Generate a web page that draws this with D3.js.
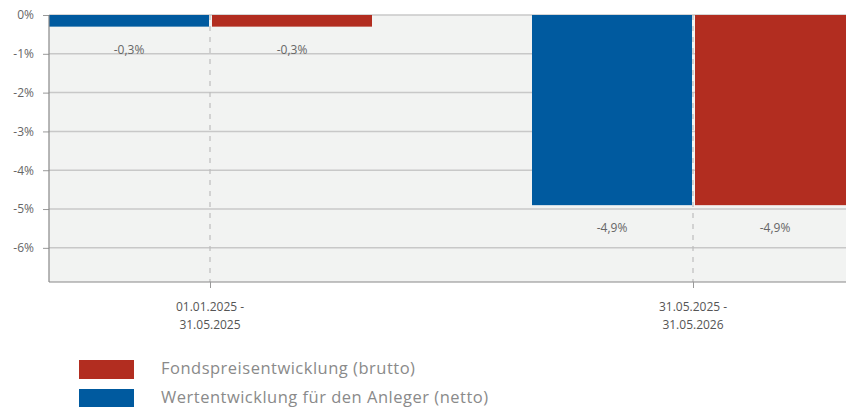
<!DOCTYPE html>
<html>
<head>
<meta charset="utf-8">
<script src="https://cdn.jsdelivr.net/npm/d3@7"></script>
<style>
  html, body { margin: 0; padding: 0; background: #fff; }
  svg { display: block; font-family: "Open Sans", "Noto Sans", sans-serif; }
</style>
</head>
<body>
<svg id="chart" width="846" height="407"></svg>
<script>
// Zeiträume und Wertentwicklung in Prozent
const categories = ["01.01.2025 - 31.05.2025", "31.05.2025 - 31.05.2026"];
const seriesNames = ["Wertentwicklung für den Anleger (netto)", "Fondspreisentwicklung (brutto)"];
const nettoValues = [-0.3, -4.9];
const bruttoValues = [-0.3, -4.9];
const yTicks = [0, -1, -2, -3, -4, -5, -6];
const legendOrder = ["Fondspreisentwicklung (brutto)", "Wertentwicklung für den Anleger (netto)"];

const colors = {
  "Wertentwicklung für den Anleger (netto)": "#005a9f",
  "Fondspreisentwicklung (brutto)": "#b22d20"
};

const svg = d3.select("#chart");
const plot = { left: 49, top: 15, right: 846, bottom: 282 };

const data = categories.map((c, i) => ({
  category: c,
  values: [
    { series: seriesNames[0], value: nettoValues[i] },
    { series: seriesNames[1], value: bruttoValues[i] }
  ]
}));

const y = d3.scaleLinear().domain([-6.88, 0]).range([plot.bottom, plot.top]);
const x0 = d3.scalePoint().domain(categories).range([210, 693]);
const x1 = d3.scaleBand().domain(seriesNames).range([-161, 162]).paddingInner(3 / 163);

// Plot background
svg.append("rect")
  .attr("x", plot.left).attr("y", plot.top)
  .attr("width", plot.right - plot.left).attr("height", plot.bottom - plot.top)
  .attr("fill", "#f2f3f2");

svg.append("clipPath").attr("id", "plotClip")
  .append("rect")
  .attr("x", plot.left).attr("y", plot.top - 1)
  .attr("width", plot.right - plot.left).attr("height", plot.bottom - plot.top + 1);

// Horizontal grid lines
svg.append("g").selectAll("line").data(yTicks).join("line")
  .attr("x1", plot.left).attr("x2", plot.right)
  .attr("y1", d => y(d)).attr("y2", d => y(d))
  .attr("stroke", "#c8c8c8").attr("stroke-width", 1.5);

// Dashed category lines
svg.append("g").selectAll("line").data(categories).join("line")
  .attr("x1", d => x0(d)).attr("x2", d => x0(d))
  .attr("y1", plot.top).attr("y2", plot.bottom)
  .attr("stroke", "#bdbdbd").attr("stroke-width", 1.2)
  .attr("stroke-dasharray", "5,6");

// Bars
const groups = svg.append("g").attr("clip-path", "url(#plotClip)")
  .selectAll("g").data(data).join("g")
  .attr("transform", d => `translate(${x0(d.category)},0)`);

groups.selectAll("rect").data(d => d.values).join("rect")
  .attr("x", d => x1(d.series))
  .attr("width", x1.bandwidth())
  .attr("y", d => y(Math.max(0, d.value)))
  .attr("height", d => Math.abs(y(d.value) - y(0)))
  .attr("fill", d => colors[d.series]);

// Value labels
const fmt = v => d3.format(".1f")(v).replace("−", "-").replace(".", ",") + "%";
groups.selectAll("text").data(d => d.values).join("text")
  .attr("x", d => x1(d.series) + x1.bandwidth() / 2)
  .attr("y", d => y(d.value) + 27)
  .attr("text-anchor", "middle")
  .attr("font-size", 12)
  .attr("fill", "#666")
  .text(d => fmt(d.value));

// Y axis
const yAxis = svg.append("g")
  .attr("transform", `translate(${plot.left},0)`)
  .call(d3.axisLeft(y).tickValues(yTicks).tickSize(6).tickPadding(9)
    .tickFormat(d => d3.format("d")(d).replace("−", "-") + "%"));
yAxis.select(".domain").remove();
yAxis.selectAll(".tick line").attr("stroke", "#999");
yAxis.selectAll(".tick text").attr("fill", "#666").attr("font-size", 12)
  .style("font-family", "'Open Sans', 'Noto Sans', sans-serif");

// Axis lines
svg.append("line")
  .attr("x1", plot.left).attr("x2", plot.left)
  .attr("y1", plot.top).attr("y2", plot.bottom)
  .attr("stroke", "#888").attr("stroke-width", 1.2);
svg.append("line")
  .attr("x1", plot.left).attr("x2", plot.right)
  .attr("y1", plot.bottom).attr("y2", plot.bottom)
  .attr("stroke", "#888").attr("stroke-width", 1.2);

// X ticks and two-line labels
const xAxis = svg.append("g")
  .attr("transform", `translate(0,${plot.bottom})`)
  .call(d3.axisBottom(x0).tickSize(6).tickFormat(""));
xAxis.select(".domain").remove();
xAxis.selectAll(".tick line").attr("stroke", "#999");

svg.append("g").selectAll("text").data(categories).join("text")
  .attr("x", d => x0(d))
  .attr("y", 311)
  .attr("text-anchor", "middle")
  .attr("font-size", 12)
  .attr("fill", "#555")
  .each(function(d) {
    const parts = d.split(" - ");
    const t = d3.select(this);
    t.append("tspan").attr("x", x0(d)).attr("dy", 0).text(parts[0] + " -");
    t.append("tspan").attr("x", x0(d)).attr("dy", 18).text(parts[1]);
  });

// Legend
const legend = svg.append("g").selectAll("g").data(legendOrder).join("g")
  .attr("transform", (d, i) => `translate(79,${360 + i * 29})`);
legend.append("rect")
  .attr("width", 55).attr("height", 19)
  .attr("fill", d => colors[d]);
legend.append("text")
  .attr("x", 82).attr("y", 13.5)
  .attr("font-size", 16.5)
  .attr("letter-spacing", 0.5)
  .attr("fill", "#8a8a8a")
  .text(d => d);
</script>
</body>
</html>
